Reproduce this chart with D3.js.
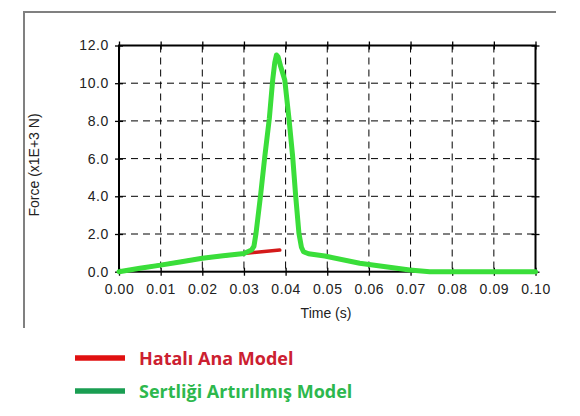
<!DOCTYPE html>
<html><head><meta charset="utf-8">
<script src="https://cdn.jsdelivr.net/npm/d3@7"></script>
<style>body{margin:0;background:#fff}svg{display:block}</style>
</head><body>
<script>
const xTicks = [0,0.01,0.02,0.03,0.04,0.05,0.06,0.07,0.08,0.09,0.10];
const yTicks = [0,2,4,6,8,10,12];
const greenT = [0,0.005,0.01,0.015,0.02,0.025,0.03,0.0318,0.0324,0.0329,0.034,0.035,0.0361,0.0369,0.0374,0.0378,0.0382,0.0388,0.0398,0.0408,0.0417,0.0424,0.0432,0.0438,0.0443,0.0455,0.0494,0.0578,0.0698,0.0746,0.08,0.09,0.10];
const greenV = [0,0.18,0.35,0.53,0.71,0.85,0.97,1.15,1.35,2.04,4.07,6.1,8.14,10.17,11.1,11.5,11.4,10.9,10.17,8.14,6.1,4.07,2.04,1.3,1.06,0.95,0.83,0.45,0.09,0.0,0,0,0];
const redT = [0,0.01,0.02,0.03,0.0386];
const redV = [0,0.35,0.71,0.97,1.15];
const legendLabels = ["Hatalı Ana Model","Sertliği Artırılmış Model"];

const W=580,H=416;
const svg=d3.select("body").append("svg").attr("width",W).attr("height",H);
const x=d3.scaleLinear().domain([0,0.10]).range([119,535.5]);
const y=d3.scaleLinear().domain([0,12]).range([271.7,45.5]);

// outer gray frame (top + left)
svg.append("path").attr("d","M24,328 L24,12 L556,12").attr("fill","none").attr("stroke","#808080").attr("stroke-width",2);

// grid
const g=svg.append("g");
g.selectAll(".vg").data(xTicks.slice(1,-1)).enter().append("line")
 .attr("x1",d=>x(d)).attr("x2",d=>x(d)).attr("y1",y(12)).attr("y2",y(0))
 .attr("stroke","#000").attr("stroke-width",1).attr("stroke-dasharray","7,5");
g.selectAll(".hg").data(yTicks.slice(1,-1)).enter().append("line")
 .attr("x1",x(0)).attr("x2",x(0.10)).attr("y1",d=>y(d)).attr("y2",d=>y(d))
 .attr("stroke","#000").attr("stroke-width",1).attr("stroke-dasharray","7,5");

// axes
const fmtX=d3.format(".2f"), fmtY=d3.format(".1f");
const styleAxis=(sel)=>{sel.select(".domain").remove();sel.selectAll("line").attr("stroke","#000").attr("stroke-width",1.3);};
svg.append("g").attr("transform",`translate(0,${y(0)})`).call(d3.axisBottom(x).tickValues(xTicks).tickFormat(fmtX).tickSizeInner(4).tickSizeOuter(0).tickPadding(8))
 .call(styleAxis).call(s=>s.selectAll("line").attr("y1",-4))
 .call(s=>s.selectAll("text").attr("font-family","Liberation Sans, Arial").attr("font-size",14).attr("letter-spacing","0.6px").attr("fill","#222"));
svg.append("g").attr("transform",`translate(0,${y(12)})`).call(d3.axisTop(x).tickValues(xTicks).tickFormat("").tickSizeInner(4).tickSizeOuter(0))
 .call(styleAxis).call(s=>s.selectAll("line").attr("y1",4));
svg.append("g").attr("transform",`translate(${x(0)},0)`).call(d3.axisLeft(y).tickValues(yTicks).tickFormat(fmtY).tickSizeInner(4).tickSizeOuter(0).tickPadding(6))
 .call(styleAxis).call(s=>s.selectAll("line").attr("x1",4))
 .call(s=>s.selectAll("text").attr("font-family","Liberation Sans, Arial").attr("font-size",14).attr("letter-spacing","0.6px").attr("fill","#222"));
svg.append("g").attr("transform",`translate(${x(0.10)},0)`).call(d3.axisRight(y).tickValues(yTicks).tickFormat("").tickSizeInner(4).tickSizeOuter(0))
 .call(styleAxis).call(s=>s.selectAll("line").attr("x1",-4));

// frame
svg.append("rect").attr("x",x(0)).attr("y",y(12)).attr("width",x(0.10)-x(0)).attr("height",y(0)-y(12))
 .attr("fill","none").attr("stroke","#000").attr("stroke-width",2);

// lines
const line=d3.line().x(d=>x(d[0])).y(d=>y(d[1]));
svg.append("path").datum(redT.map((t,i)=>[t,redV[i]])).attr("d",line)
 .attr("fill","none").attr("stroke","#d41a1a").attr("stroke-width",3.5).attr("stroke-linecap","round");
svg.append("path").datum(greenT.map((t,i)=>[t,greenV[i]])).attr("d",line)
 .attr("fill","none").attr("stroke","#3ade3a").attr("stroke-width",5).attr("stroke-linejoin","round").attr("stroke-linecap","round");

// axis titles
svg.append("text").attr("x",326).attr("y",318).attr("text-anchor","middle")
 .attr("font-family","Liberation Sans, Arial").attr("font-size",14).attr("fill","#222").text("Time (s)");
svg.append("text").attr("transform","translate(39,165) rotate(-90)").attr("text-anchor","middle")
 .attr("font-family","Liberation Sans, Arial").attr("font-size",14).attr("fill","#222").text("Force (x1E+3 N)");

// legend
const legColors=["#e01010","#1a9e52"], legText=["#cc2030","#2db84d"], legY=[358,391];
legendLabels.forEach((lab,i)=>{
  svg.append("line").attr("x1",75).attr("x2",125).attr("y1",legY[i]).attr("y2",legY[i]).attr("stroke",legColors[i]).attr("stroke-width",5.5);
  svg.append("text").attr("x",139).attr("y",legY[i]+6.5).attr("font-family","Open Sans, Noto Sans, sans-serif").attr("font-weight","bold")
   .attr("font-size",18).attr("fill",legText[i]).text(lab);
});
</script>
</body></html>
